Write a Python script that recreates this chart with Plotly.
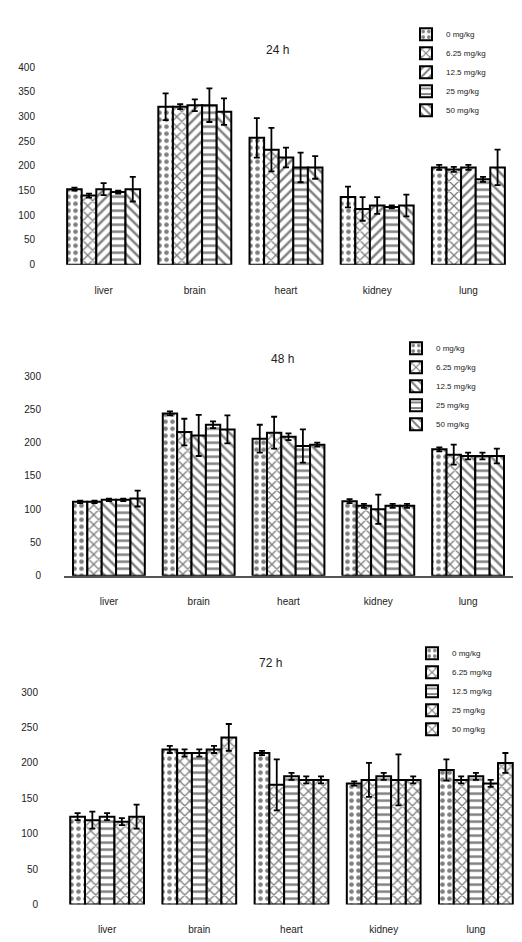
import plotly.graph_objects as go

organs = ["liver", "brain", "heart", "kidney", "lung"]
doses = ["0 mg/kg", "6.25 mg/kg", "12.5 mg/kg", "25 mg/kg", "50 mg/kg"]
titles = ["24 h", "48 h", "72 h"]

# values per dose (rows) across organs (columns)
vals_24h = [
    [153, 320, 257, 137, 197],
    [140, 320, 233, 113, 193],
    [153, 323, 217, 120, 197],
    [147, 323, 197, 117, 173],
    [153, 310, 197, 120, 197],
]
err_24h = [
    [3, 27, 40, 21, 5],
    [4, 5, 44, 24, 5],
    [12, 12, 20, 17, 5],
    [3, 34, 30, 3, 5],
    [25, 27, 23, 22, 36],
]
vals_48h = [
    [111, 244, 206, 112, 190],
    [111, 216, 215, 105, 182],
    [114, 211, 209, 100, 180],
    [114, 227, 195, 105, 180],
    [116, 220, 197, 105, 180],
]
err_48h = [
    [2, 3, 21, 3, 3],
    [2, 20, 24, 3, 15],
    [2, 31, 5, 22, 5],
    [2, 5, 25, 3, 5],
    [12, 21, 3, 3, 11],
]
vals_72h = [
    [124, 219, 214, 171, 190],
    [119, 214, 169, 176, 176],
    [124, 214, 181, 181, 181],
    [117, 219, 176, 176, 171],
    [124, 236, 176, 176, 200],
]
err_72h = [
    [5, 5, 3, 3, 15],
    [12, 5, 36, 24, 5],
    [5, 5, 5, 5, 5],
    [5, 5, 5, 36, 5],
    [17, 19, 5, 5, 14],
]
y_ticks_24h = [0, 50, 100, 150, 200, 250, 300, 350, 400]
y_ticks_48h = [0, 50, 100, 150, 200, 250, 300]
y_ticks_72h = [0, 50, 100, 150, 200, 250, 300]

patterns = [
    [".", "x", "/", "-", "\\"],
    [".", "x", "\\", "-", "\\"],
    [".", "x", "-", "x", "x"],
]

W, H = 522, 942
panels = [
    dict(vals=vals_24h, err=err_24h, ticks=y_ticks_24h, yr=[0, 400],
         ypx=(62, 262), xpx=(58, 514), title_xy=(277, 45),
         leg_xy=(406, 14)),
    dict(vals=vals_48h, err=err_48h, ticks=y_ticks_48h, yr=[0, 300],
         ypx=(375, 577), xpx=(64, 513), title_xy=(282, 358),
         leg_xy=(396, 332)),
    dict(vals=vals_72h, err=err_72h, ticks=y_ticks_72h, yr=[0, 300],
         ypx=(695, 910), xpx=(61, 522), title_xy=(270, 665),
         leg_xy=(412, 641)),
]

fig = go.Figure()
layout = {}
annotations = []
for p, pan in enumerate(panels):
    sfx = "" if p == 0 else str(p + 1)
    leg = "legend" + sfx
    for d in range(5):
        fig.add_trace(go.Bar(
            x=organs, y=pan["vals"][d], name=doses[d],
            xaxis="x" + sfx, yaxis="y" + sfx, legend=leg,
            marker=dict(color="white", line=dict(color="black", width=2),
                        pattern=dict(shape=patterns[p][d], fgcolor="black",
                                     bgcolor="white", size=7, solidity=0.35)),
            error_y=dict(type="data", array=pan["err"][d], color="black",
                         thickness=1.8, width=3),
        ))
    y0, y1 = pan["ypx"]
    x0, x1 = pan["xpx"]
    layout["xaxis" + sfx] = dict(
        domain=[x0 / W, min(x1 / W, 1.0)], anchor="y" + sfx,
        showgrid=False, zeroline=False,
        showline=(p == 1), linecolor="#555", linewidth=1.5,
        ticks="outside", ticklen=16, tickcolor="rgba(0,0,0,0)",
        tickfont=dict(size=10, color="#222"),
    )
    layout["yaxis" + sfx] = dict(
        domain=[1 - y1 / H, 1 - y0 / H], anchor="x" + sfx,
        range=pan["yr"], tickvals=pan["ticks"], showgrid=False,
        zeroline=False, showline=False,
        ticks="outside", ticklen=20, tickcolor="rgba(0,0,0,0)",
        tickfont=dict(size=10, color="#222"),
    )
    layout[leg] = dict(
        x=pan["leg_xy"][0] / W, y=1 - pan["leg_xy"][1] / H,
        xanchor="left", yanchor="top", bgcolor="rgba(0,0,0,0)",
        font=dict(size=8, color="#222"), tracegroupgap=0,
        itemwidth=30,
    )
    annotations.append(dict(
        text=titles[p], x=pan["title_xy"][0] / W, y=1 - pan["title_xy"][1] / H,
        xref="paper", yref="paper", showarrow=False,
        font=dict(size=12, color="#222"), xanchor="center", yanchor="middle",
    ))

fig.update_layout(
    width=W, height=H, margin=dict(l=0, r=0, t=0, b=0),
    paper_bgcolor="white", plot_bgcolor="white",
    barmode="group", bargap=0.2, bargroupgap=0,
    font=dict(family="Liberation Sans, Arial, sans-serif"),
    annotations=annotations, showlegend=True,
    **layout,
)
fig.write_html("out.html")
